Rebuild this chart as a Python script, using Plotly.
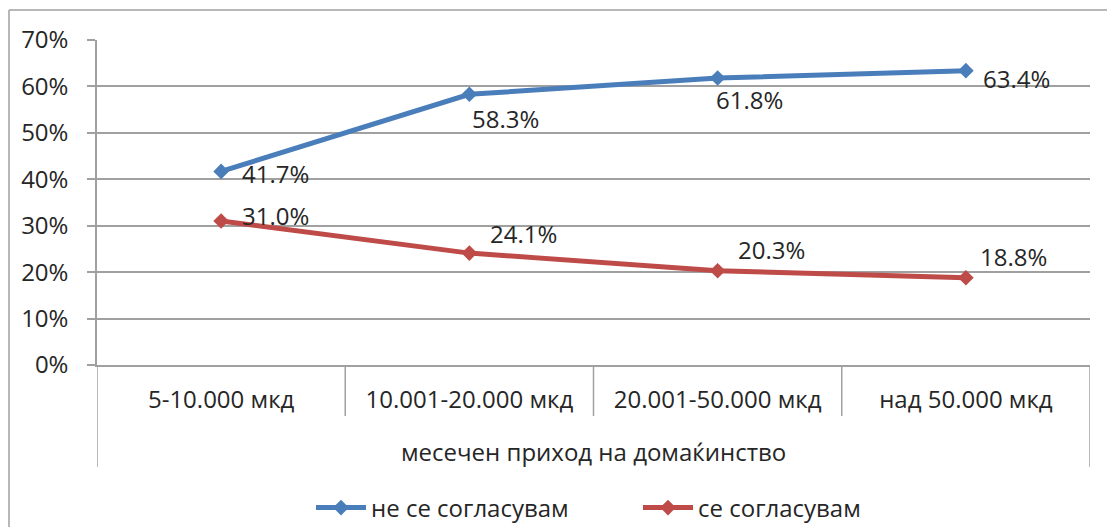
import plotly.graph_objects as go

# ---- data ----
categories = ["5-10.000 мкд", "10.001-20.000 мкд", "20.001-50.000 мкд", "над 50.000 мкд"]
group_label = "месечен приход на домаќинство"
series_names = ["не се согласувам", "се согласувам"]
disagree = [41.7, 58.3, 61.8, 63.4]
agree = [31.0, 24.1, 20.3, 18.8]
y_ticks = [0, 10, 20, 30, 40, 50, 60, 70]
y_tick_labels = [f"{v}%" for v in y_ticks]

# ---- styling ----
W, H = 1107, 527
L, R, T, B = 97, 17, 40, 162
PW, PH = W - L - R, H - T - B
FONT = "Open Sans"
TXT = "#262626"
GRID = "#A0A0A0"
colors = ["#4A7EBB", "#BE4B48"]
label_offsets = [
    [(54, 2), (36, 24), (32, 21), (51, 8)],
    [(54, -6), (54, -20), (54, -21), (48, -21)],
]
FS = 24

def px_x(p):  # pixel -> paper x
    return (p - L) / PW

def px_y(p):  # pixel -> paper y
    return (T + PH - p) / PH

fig = go.Figure()
for name, vals, col in zip(series_names, [disagree, agree], colors):
    fig.add_trace(go.Scatter(
        x=categories, y=vals, name=name, mode="lines+markers",
        line=dict(color=col, width=5),
        marker=dict(symbol="diamond", size=12, color=col),
    ))

annotations = []
for vals, offs in zip([disagree, agree], label_offsets):
    for c, v, (dx, dy) in zip(categories, vals, offs):
        annotations.append(dict(
            x=c, y=v, xref="x", yref="y", text=f"{v:.1f}%", showarrow=False,
            xanchor="center", yanchor="middle",
            xshift=dx, yshift=-dy, font=dict(family=FONT, size=FS, color=TXT),
        ))

annotations.append(dict(
    x=0.5, y=px_y(451), xref="paper", yref="paper", text=group_label,
    xanchor="center", yanchor="middle",
    showarrow=False, font=dict(family=FONT, size=FS, color=TXT),
))

shapes = []
n = len(categories)
for i in range(n + 1):
    xb = i - 0.5
    end = (i == 0 or i == n)
    shapes.append(dict(
        type="line", xref="x", yref="paper", x0=xb, x1=xb,
        y0=0, y1=px_y(467) if end else px_y(416),
        line=dict(color=GRID, width=1.5),
    ))
# outer chart border (top and left edges visible)
shapes.append(dict(type="line", xref="paper", yref="paper",
                   x0=px_x(9), x1=px_x(W + 20), y0=px_y(10), y1=px_y(10),
                   line=dict(color=GRID, width=1.5)))
shapes.append(dict(type="line", xref="paper", yref="paper",
                   x0=px_x(9), x1=px_x(9), y0=px_y(10), y1=px_y(H + 20),
                   line=dict(color=GRID, width=1.5)))

fig.update_layout(
    width=W, height=H,
    margin=dict(l=L, r=R, t=T, b=B, autoexpand=False),
    paper_bgcolor="white", plot_bgcolor="white",
    font=dict(family=FONT, size=FS, color=TXT),
    showlegend=True,
    legend=dict(orientation="h", x=px_x(638), xanchor="center", y=px_y(508), yanchor="middle",
                font=dict(family=FONT, size=FS, color=TXT), itemwidth=50,
                entrywidth=262, entrywidthmode="pixels",
                traceorder="normal"),
    annotations=annotations,
    shapes=shapes,
    xaxis=dict(
        type="category", range=[-0.5, n - 0.5], showgrid=False,
        showline=True, linecolor=GRID, linewidth=1.5, ticks="",
        ticklabelstandoff=12, tickfont=dict(family=FONT, size=FS, color=TXT),
        fixedrange=True, automargin=False,
    ),
    yaxis=dict(
        range=[0, 70], tickmode="array", tickvals=y_ticks, ticktext=y_tick_labels,
        showgrid=True, gridcolor=GRID, gridwidth=1.5,
        showline=True, linecolor=GRID, linewidth=1.5,
        ticks="outside", ticklen=8, tickcolor=GRID, tickwidth=1.5,
        ticklabelstandoff=14, tickfont=dict(family=FONT, size=FS, color=TXT),
        zeroline=False, fixedrange=True, automargin=False,
    ),
)

fig.write_html(
    "out.html",
    config={"displayModeBar": False},
    post_script="document.body.style.margin='0px';document.body.style.overflow='hidden';",
)
